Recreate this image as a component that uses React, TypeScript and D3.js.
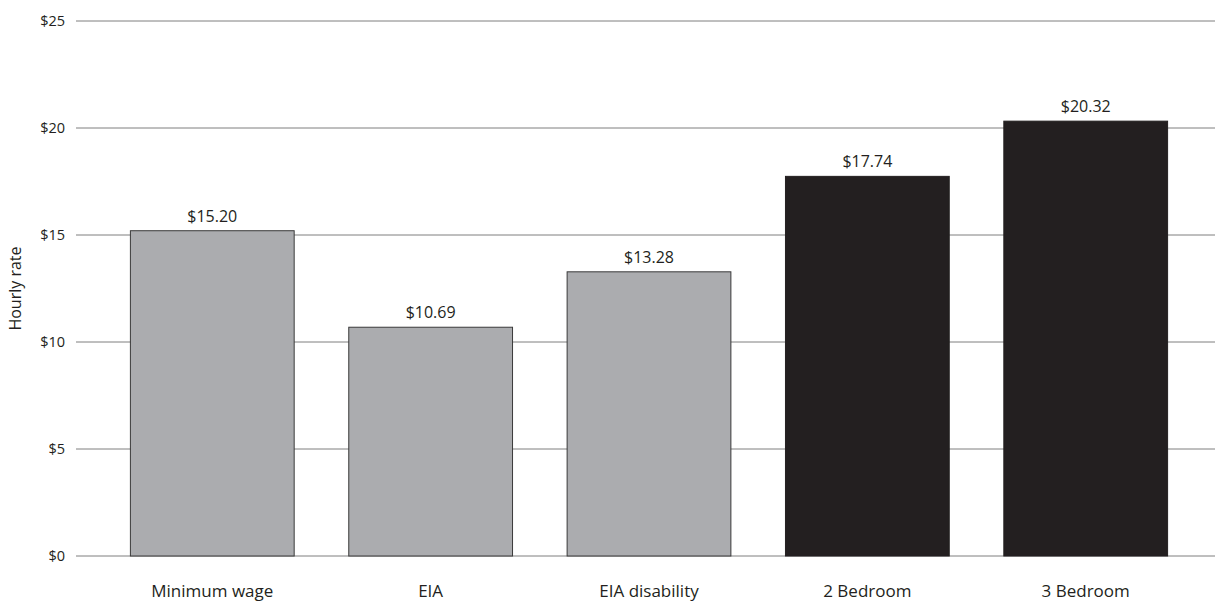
import React from "react";
import * as d3 from "d3";

const categories = ["Minimum wage", "EIA", "EIA disability", "2 Bedroom", "3 Bedroom"];
const values = [15.2, 10.69, 13.28, 17.74, 20.32];
const barKinds = ["income", "income", "income", "rent", "rent"];
const yTicks = [0, 5, 10, 15, 20, 25];

const W = 1215;
const H = 604;

export default function App() {
  const x = d3.scaleBand<string>().domain(categories).range([78, 1220]).paddingInner(0.25).paddingOuter(0.24);
  const y = d3.scaleLinear().domain([0, 25]).range([556, 21]);
  const font = "'Open Sans', 'Noto Sans', sans-serif";
  return (
    <svg width={W} height={H} style={{ position: "absolute", left: 0, top: 0, background: "#fff" }}>
      {yTicks.map((t) => (
        <g key={t}>
          <line x1={76} x2={1215} y1={y(t)} y2={y(t)} stroke="#7f7f7f" strokeWidth={1} />
          <text x={65} y={y(t)} dy="0.35em" textAnchor="end" fontFamily={font} fontSize={14.5} fill="#231f20">
            {"$" + t}
          </text>
        </g>
      ))}
      <text transform={`translate(21,${y(12.5)}) rotate(-90)`} textAnchor="middle" fontFamily={font} fontSize={16} fill="#231f20">
        Hourly rate
      </text>
      {categories.map((c, i) => (
        <g key={c}>
          <rect
            x={x(c)}
            y={y(values[i])}
            width={x.bandwidth()}
            height={y(0) - y(values[i])}
            fill={barKinds[i] === "rent" ? "#231f20" : "#abacaf"}
            stroke={barKinds[i] === "rent" ? "#231f20" : "#3a3a3a"}
            strokeWidth={1}
          />
          <text x={(x(c) as number) + x.bandwidth() / 2} y={y(values[i]) - 9} textAnchor="middle" fontFamily={font} fontSize={16} fill="#231f20">
            {"$" + values[i].toFixed(2)}
          </text>
          <text x={(x(c) as number) + x.bandwidth() / 2} y={597} textAnchor="middle" fontFamily={font} fontSize={17} fill="#231f20">
            {c}
          </text>
        </g>
      ))}
    </svg>
  );
}
